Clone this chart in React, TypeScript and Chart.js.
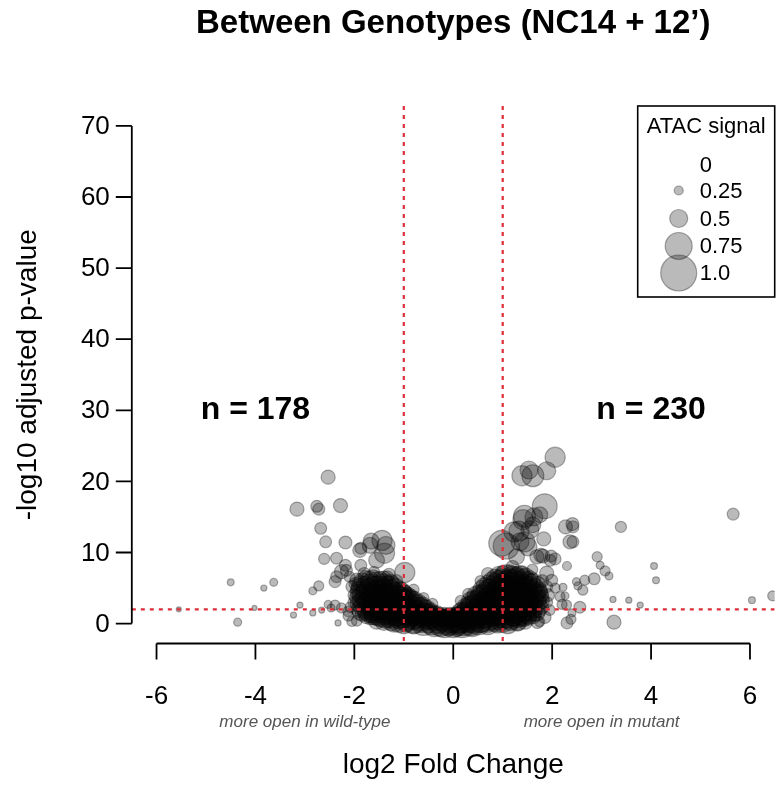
import React, { useEffect, useRef } from 'react';
import { Chart, registerables } from 'chart.js';

Chart.register(...registerables);

// ---------- text & axes ----------
const TITLE = 'Between Genotypes (NC14 + 12\u2019)';
const X_TITLE = 'log2 Fold Change';
const Y_TITLE = '-log10 adjusted p-value';
const X_TICKS = [-6, -4, -2, 0, 2, 4, 6];
const Y_TICKS = [0, 10, 20, 30, 40, 50, 60, 70];
const X_RANGE = [-6.5, 6.5];
const Y_RANGE = [-2.8, 72.8];
const FC_CUTOFF = 1; // |log2FC| threshold
const P_CUTOFF = 2; // -log10 padj threshold
const COUNT_X = [-4, 4];
const COUNT_Y = 30;
const COUNT_TEXT = ['n = 178', 'n = 230'];
const SIDE_NOTE_X = [-3, 3];
const SIDE_NOTE_TEXT = ['more open in wild-type', 'more open in mutant'];
const LEGEND_TITLE = 'ATAC signal';
const LEGEND_VALUES = [0, 0.25, 0.5, 0.75, 1.0];
const LEGEND_LABELS = ['0', '0.25', '0.5', '0.75', '1.0'];

// ---------- data: [log2 fold change, -log10 padj, ATAC signal] ----------
const coreLeft = [
  [-1.84, 6.0, 0.45], [-1.70, 6.1, 0.5], [-1.55, 5.9, 0.55], [-1.41, 6.1, 0.5], [-1.27, 5.8, 0.45],
  [-1.90, 5.2, 0.45], [-1.76, 5.3, 0.55], [-1.60, 5.1, 0.6], [-1.47, 5.3, 0.55], [-1.33, 5.2, 0.6], [-1.18, 5.0, 0.55], [-1.06, 4.9, 0.4],
  [-1.92, 4.4, 0.45], [-1.78, 4.5, 0.55], [-1.63, 4.3, 0.6], [-1.50, 4.5, 0.6], [-1.35, 4.4, 0.55], [-1.20, 4.3, 0.6], [-1.04, 4.5, 0.5], [-0.91, 4.1, 0.4],
  [-1.93, 3.6, 0.45], [-1.79, 3.7, 0.55], [-1.64, 3.5, 0.6], [-1.49, 3.7, 0.6], [-1.36, 3.6, 0.55], [-1.22, 3.5, 0.6], [-1.06, 3.7, 0.6], [-0.93, 3.5, 0.55], [-0.78, 3.4, 0.45],
  [-1.92, 2.8, 0.45], [-1.77, 2.9, 0.55], [-1.62, 2.7, 0.6], [-1.48, 2.9, 0.6], [-1.34, 2.8, 0.6], [-1.19, 2.7, 0.6], [-1.05, 2.9, 0.6], [-0.90, 2.8, 0.55], [-0.76, 2.7, 0.55], [-0.61, 2.6, 0.45],
  [-1.90, 2.0, 0.45], [-1.75, 2.1, 0.55], [-1.61, 1.9, 0.6], [-1.46, 2.1, 0.6], [-1.31, 2.0, 0.6], [-1.17, 1.9, 0.6], [-1.02, 2.1, 0.6], [-0.88, 2.0, 0.6], [-0.74, 1.9, 0.55], [-0.60, 2.0, 0.55], [-0.46, 1.8, 0.45],
  [-1.84, 1.3, 0.4], [-1.69, 1.4, 0.5], [-1.55, 1.2, 0.55], [-1.40, 1.4, 0.6], [-1.26, 1.3, 0.6], [-1.11, 1.2, 0.6], [-0.97, 1.4, 0.6], [-0.83, 1.3, 0.6], [-0.68, 1.2, 0.6], [-0.54, 1.3, 0.6], [-0.39, 1.1, 0.55], [-0.28, 1.0, 0.5],
  [-1.68, 0.7, 0.35], [-1.52, 0.8, 0.45], [-1.38, 0.6, 0.5], [-1.23, 0.7, 0.55], [-1.09, 0.8, 0.6], [-0.94, 0.6, 0.6], [-0.80, 0.7, 0.6], [-0.66, 0.5, 0.6], [-0.51, 0.7, 0.6], [-0.37, 0.6, 0.6], [-0.23, 0.5, 0.6], [-0.12, 0.6, 0.55],
];

const coreLeftInner = [
  [-1.77, 6.4, 0.42], [-1.62, 6.5, 0.42], [-1.48, 6.3, 0.42], [-1.34, 6.4, 0.4],
  [-1.87, 5.6, 0.45], [-1.69, 5.7, 0.5], [-1.54, 5.5, 0.5], [-1.40, 5.7, 0.5], [-1.26, 5.5, 0.5],
  [-1.91, 4.8, 0.45], [-1.71, 4.9, 0.55], [-1.56, 4.7, 0.55], [-1.42, 4.9, 0.55], [-1.27, 4.8, 0.55], [-1.12, 4.6, 0.5], [-0.98, 4.4, 0.4],
  [-1.86, 4.0, 0.5], [-1.71, 4.1, 0.55], [-1.57, 3.9, 0.6], [-1.42, 4.1, 0.6], [-1.28, 4.0, 0.6], [-1.13, 3.9, 0.6], [-0.99, 4.1, 0.5], [-0.85, 3.8, 0.4],
  [-1.86, 3.2, 0.5], [-1.71, 3.3, 0.55], [-1.57, 3.1, 0.6], [-1.42, 3.3, 0.6], [-1.28, 3.2, 0.6], [-1.13, 3.1, 0.6], [-0.99, 3.3, 0.6], [-0.85, 3.2, 0.55], [-0.70, 3.0, 0.45],
  [-1.85, 2.4, 0.5], [-1.70, 2.5, 0.55], [-1.55, 2.3, 0.6], [-1.41, 2.5, 0.6], [-1.26, 2.4, 0.6], [-1.12, 2.3, 0.6], [-0.97, 2.5, 0.6], [-0.83, 2.4, 0.6], [-0.68, 2.3, 0.55], [-0.54, 2.2, 0.45],
  [-1.88, 1.6, 0.45], [-1.76, 1.7, 0.5], [-1.62, 1.5, 0.55], [-1.47, 1.7, 0.6], [-1.33, 1.6, 0.6], [-1.19, 1.5, 0.6], [-1.04, 1.7, 0.6], [-0.90, 1.6, 0.6], [-0.76, 1.5, 0.6], [-0.61, 1.6, 0.55], [-0.47, 1.5, 0.5], [-0.33, 1.4, 0.45],
  [-1.76, 1.0, 0.4], [-1.61, 1.1, 0.5], [-1.46, 0.9, 0.55], [-1.31, 1.0, 0.6], [-1.16, 1.1, 0.6], [-1.02, 0.9, 0.6], [-0.87, 1.0, 0.6], [-0.73, 0.9, 0.6], [-0.59, 1.0, 0.6], [-0.45, 0.9, 0.6], [-0.31, 0.8, 0.55], [-0.18, 0.9, 0.55], [-0.05, 0.8, 0.55],
  [-1.55, 0.35, 0.45], [-1.40, 0.3, 0.5], [-1.25, 0.4, 0.55], [-1.10, 0.3, 0.6], [-0.95, 0.35, 0.6], [-0.80, 0.3, 0.65], [-0.65, 0.4, 0.65],
];

const coreRight = [
  [0.92, 6.8, 0.5], [1.06, 6.9, 0.55], [1.20, 6.7, 0.55], [1.34, 6.9, 0.5], [1.46, 6.7, 0.45],
  [0.78, 6.0, 0.5], [0.92, 6.1, 0.55], [1.07, 5.9, 0.6], [1.21, 6.1, 0.6], [1.35, 6.0, 0.55], [1.49, 5.9, 0.55], [1.61, 6.0, 0.45],
  [0.64, 5.2, 0.5], [0.79, 5.3, 0.55], [0.93, 5.1, 0.6], [1.08, 5.3, 0.6], [1.22, 5.2, 0.6], [1.37, 5.1, 0.6], [1.51, 5.3, 0.55], [1.66, 5.2, 0.45],
  [0.52, 4.3, 0.45], [0.66, 4.5, 0.55], [0.81, 4.3, 0.6], [0.95, 4.5, 0.6], [1.10, 4.4, 0.6], [1.24, 4.3, 0.6], [1.39, 4.5, 0.6], [1.53, 4.4, 0.55], [1.68, 4.3, 0.5], [1.76, 4.5, 0.4],
  [0.40, 3.5, 0.45], [0.54, 3.7, 0.55], [0.69, 3.6, 0.6], [0.83, 3.5, 0.6], [0.98, 3.7, 0.6], [1.12, 3.6, 0.6], [1.27, 3.5, 0.6], [1.41, 3.7, 0.6], [1.56, 3.6, 0.55], [1.70, 3.5, 0.5], [1.79, 3.7, 0.4],
  [0.30, 2.7, 0.45], [0.42, 2.9, 0.5], [0.57, 2.8, 0.6], [0.71, 2.7, 0.6], [0.86, 2.9, 0.6], [1.00, 2.8, 0.6], [1.15, 2.7, 0.6], [1.29, 2.9, 0.6], [1.44, 2.8, 0.6], [1.58, 2.7, 0.55], [1.72, 2.9, 0.45],
  [0.17, 1.9, 0.45], [0.31, 2.1, 0.55], [0.46, 2.0, 0.6], [0.60, 1.9, 0.6], [0.75, 2.1, 0.6], [0.89, 2.0, 0.6], [1.04, 1.9, 0.6], [1.18, 2.1, 0.6], [1.33, 2.0, 0.6], [1.47, 1.9, 0.6], [1.62, 2.1, 0.5], [1.74, 1.9, 0.4],
  [0.10, 1.1, 0.5], [0.20, 1.4, 0.55], [0.34, 1.2, 0.6], [0.49, 1.3, 0.6], [0.63, 1.4, 0.6], [0.78, 1.2, 0.6], [0.92, 1.3, 0.6], [1.07, 1.4, 0.6], [1.21, 1.2, 0.6], [1.36, 1.3, 0.6], [1.50, 1.2, 0.5], [1.64, 1.3, 0.4],
  [0.02, 0.7, 0.55], [0.14, 0.8, 0.6], [0.29, 0.6, 0.6], [0.43, 0.7, 0.6], [0.58, 0.8, 0.6], [0.72, 0.6, 0.6], [0.87, 0.7, 0.6], [1.01, 0.8, 0.6], [1.16, 0.6, 0.55], [1.30, 0.7, 0.5], [1.44, 0.6, 0.4],
];

const coreRightInner = [
  [1.00, 7.1, 0.42], [1.14, 7.2, 0.42], [1.28, 7.0, 0.42], [1.40, 7.1, 0.4],
  [0.85, 6.4, 0.5], [0.99, 6.5, 0.5], [1.14, 6.3, 0.55], [1.28, 6.5, 0.55], [1.42, 6.4, 0.5], [1.55, 6.3, 0.45],
  [0.71, 5.6, 0.5], [0.86, 5.7, 0.55], [1.00, 5.5, 0.6], [1.15, 5.7, 0.6], [1.29, 5.6, 0.6], [1.44, 5.5, 0.55], [1.58, 5.7, 0.5], [1.70, 5.5, 0.45],
  [0.58, 4.8, 0.5], [0.73, 4.9, 0.55], [0.88, 4.7, 0.6], [1.02, 4.9, 0.6], [1.17, 4.8, 0.6], [1.31, 4.7, 0.6], [1.46, 4.9, 0.6], [1.60, 4.8, 0.5], [1.73, 4.7, 0.45],
  [0.46, 4.0, 0.5], [0.60, 4.1, 0.55], [0.75, 3.9, 0.6], [0.89, 4.1, 0.6], [1.04, 4.0, 0.6], [1.18, 3.9, 0.6], [1.33, 4.1, 0.6], [1.47, 4.0, 0.6], [1.62, 3.9, 0.55], [1.76, 4.1, 0.45],
  [0.35, 3.2, 0.5], [0.48, 3.3, 0.55], [0.63, 3.1, 0.6], [0.77, 3.3, 0.6], [0.92, 3.2, 0.6], [1.06, 3.1, 0.6], [1.21, 3.3, 0.6], [1.35, 3.2, 0.6], [1.50, 3.1, 0.6], [1.64, 3.3, 0.5], [1.78, 3.2, 0.45],
  [0.24, 2.4, 0.45], [0.36, 2.5, 0.55], [0.51, 2.3, 0.6], [0.65, 2.5, 0.6], [0.80, 2.4, 0.6], [0.94, 2.3, 0.6], [1.09, 2.5, 0.6], [1.23, 2.4, 0.6], [1.38, 2.3, 0.6], [1.52, 2.5, 0.6], [1.66, 2.4, 0.5], [1.78, 2.3, 0.4],
  [0.14, 1.6, 0.5], [0.26, 1.7, 0.55], [0.41, 1.5, 0.6], [0.55, 1.7, 0.6], [0.70, 1.6, 0.6], [0.84, 1.5, 0.6], [0.99, 1.7, 0.6], [1.13, 1.6, 0.6], [1.28, 1.5, 0.6], [1.42, 1.7, 0.6], [1.56, 1.6, 0.5], [1.69, 1.5, 0.45],
  [0.08, 1.0, 0.55], [0.22, 0.9, 0.6], [0.37, 1.1, 0.6], [0.51, 1.0, 0.6], [0.66, 0.9, 0.6], [0.80, 1.1, 0.6], [0.95, 1.0, 0.6], [1.09, 0.9, 0.6], [1.24, 1.1, 0.6], [1.38, 1.0, 0.55], [1.52, 0.9, 0.45], [1.62, 1.0, 0.4],
  [0.10, 0.3, 0.65], [0.25, 0.4, 0.65], [0.40, 0.3, 0.65], [0.55, 0.4, 0.65], [0.70, 0.3, 0.6], [0.85, 0.4, 0.6], [1.00, 0.3, 0.6], [1.15, 0.4, 0.55], [1.30, 0.3, 0.5], [1.45, 0.35, 0.45],
];

const coreCenter = [
  [-1.20, 0.2, 0.55], [-1.00, 0.1, 0.6], [-0.80, 0.2, 0.65], [-0.60, 0.1, 0.7], [-0.42, 0.2, 0.7], [-0.25, 0.1, 0.75], [-0.10, 0.2, 0.75],
  [0.05, 0.1, 0.75], [0.20, 0.2, 0.75], [0.36, 0.1, 0.7], [0.52, 0.2, 0.7], [0.70, 0.1, 0.65], [0.90, 0.2, 0.6], [1.10, 0.1, 0.6], [1.30, 0.2, 0.5],
  [-0.30, 0.4, 0.7], [-0.05, 0.5, 0.7], [0.15, 0.45, 0.7], [0.35, 0.55, 0.7], [-0.50, 0.35, 0.65], [0.55, 0.4, 0.65],
  [0.00, 0.0, 0.78], [-0.18, 0.0, 0.78], [0.18, 0.0, 0.78], [-0.38, 0.0, 0.72], [0.38, 0.0, 0.72], [-0.1, 0.3, 0.72], [0.1, 0.25, 0.72],
];

const fringe = [
  [-2.00, 4.0, 0.35], [-2.02, 3.0, 0.3], [-2.08, 2.3, 0.3], [-1.98, 5.6, 0.35], [-2.10, 6.6, 0.3], [-1.80, 7.0, 0.35],
  [-1.60, 7.3, 0.3], [-1.30, 6.9, 0.35], [-1.15, 6.0, 0.35], [-0.80, 4.8, 0.3], [-0.60, 3.6, 0.3], [-0.42, 2.8, 0.3],
  [-2.12, 1.1, 0.3], [-1.95, 0.4, 0.3],
  [1.90, 3.0, 0.3], [1.95, 1.9, 0.3], [1.85, 0.9, 0.35], [1.70, 0.2, 0.35], [1.92, 4.0, 0.35], [1.80, 6.0, 0.35],
  [1.60, 7.6, 0.3], [0.70, 7.0, 0.35], [0.55, 6.0, 0.3], [0.30, 4.2, 0.3], [0.15, 3.2, 0.3], [1.20, 8.0, 0.35],
];

const outliersLeft = [
  [-2.53, 20.6, 0.39], [-3.16, 16.1, 0.39], [-2.76, 16.5, 0.33], [-2.72, 16.1, 0.33], [-2.28, 16.6, 0.39],
  [-2.68, 13.4, 0.33], [-2.58, 11.5, 0.33], [-2.18, 11.4, 0.36], [-2.61, 9.1, 0.31], [-2.36, 9.2, 0.33],
  [-2.18, 8.2, 0.33], [-1.87, 10.6, 0.33], [-1.66, 11.6, 0.44], [-1.44, 11.7, 0.56], [-1.39, 9.9, 0.56],
  [-0.98, 7.2, 0.56], [-2.26, 7.3, 0.39], [-2.36, 6.6, 0.33], [-2.39, 5.9, 0.33], [-2.16, 7.5, 0.33],
  [-1.95, 6.1, 0.39], [-2.05, 5.2, 0.33], [-2.72, 5.3, 0.28], [-2.84, 4.6, 0.22], [-2.53, 2.7, 0.22],
  [-2.39, 2.6, 0.28], [-2.26, 2.2, 0.28], [-2.13, 1.7, 0.28], [-2.05, 0.3, 0.28], [-2.33, 0.1, 0.17],
  [-3.10, 2.6, 0.17], [-3.23, 1.2, 0.17], [-2.84, 1.5, 0.17], [-2.66, 1.9, 0.17], [-2.47, 2.2, 0.22],
  [-4.50, 5.8, 0.19], [-3.83, 5.0, 0.17], [-3.63, 5.8, 0.22], [-5.55, 2.0, 0.14], [-4.02, 2.2, 0.14],
  [-4.36, 0.2, 0.22], [-1.89, 10.3, 0.39], [-1.68, 11.0, 0.44], [-1.55, 8.9, 0.44], [-1.36, 11.0, 0.5],
  [-1.87, 8.2, 0.33],
];

const outliersRight = [
  [2.06, 23.4, 0.56], [1.89, 21.5, 0.5], [1.61, 20.8, 0.61], [1.39, 20.8, 0.56], [1.53, 21.6, 0.5],
  [1.85, 16.5, 0.69], [1.44, 15.1, 0.61], [1.63, 15.0, 0.5], [1.61, 13.9, 0.44], [1.07, 10.9, 0.72],
  [1.33, 13.0, 0.56], [1.45, 11.5, 0.56], [1.83, 11.9, 0.39], [1.77, 9.6, 0.39], [1.98, 9.5, 0.33],
  [2.27, 13.6, 0.39], [2.41, 14.0, 0.36], [2.42, 13.6, 0.33], [2.36, 11.5, 0.39], [2.42, 11.5, 0.33],
  [3.39, 13.6, 0.31], [2.30, 8.1, 0.25], [2.91, 9.4, 0.28], [2.97, 8.2, 0.22], [3.07, 7.4, 0.28],
  [3.15, 6.7, 0.22], [2.85, 6.3, 0.33], [2.66, 6.1, 0.28], [2.52, 5.3, 0.22], [2.62, 4.7, 0.28],
  [2.22, 5.1, 0.22], [2.26, 3.9, 0.22], [2.20, 2.7, 0.28], [2.56, 2.3, 0.33], [2.40, 1.5, 0.22],
  [2.30, 0.1, 0.33], [2.38, 0.6, 0.28], [3.25, 0.2, 0.39], [3.23, 3.4, 0.17], [3.55, 3.3, 0.17],
  [3.78, 2.6, 0.17], [4.06, 8.1, 0.19], [4.10, 6.1, 0.19], [5.66, 15.4, 0.33], [6.04, 3.3, 0.19],
  [6.46, 3.9, 0.28], [0.98, 11.3, 0.72], [1.23, 12.9, 0.56], [1.35, 11.5, 0.5], [1.51, 10.8, 0.5],
  [1.69, 9.4, 0.39], [1.81, 9.5, 0.39], [1.28, 9.4, 0.44], [1.55, 13.2, 0.5], [1.75, 15.3, 0.44],
  [1.41, 14.6, 0.56], [1.96, 8.9, 0.33], [2.06, 9.1, 0.33], [1.89, 7.1, 0.39], [1.99, 6.1, 0.33],
  [1.89, 5.2, 0.33], [2.06, 5.0, 0.28], [2.16, 3.8, 0.28], [2.29, 2.6, 0.28], [2.49, 5.9, 0.22],
  [1.75, 0.25, 0.28],
];

// ---------- styles ----------
const FONT = '"Liberation Sans", Arial, Helvetica, sans-serif';
const R_FULL = 18; // bubble radius (px) for ATAC signal 1.0
const FILL = 'rgba(0,0,0,0.27)';
const EDGE = 'rgba(0,0,0,0.32)';
const RED = '#dc2e38';

const toBubbles = (arr: number[][]) => arr.map(([x, y, s]) => ({ x, y, r: s * R_FULL }));

const rPlotPlugin = {
  id: 'rPlot',
  afterDatasetsDraw(chart: any) {
    const { ctx, chartArea: a, scales } = chart;
    const xs = scales.x;
    const ys = scales.y;
    ctx.save();
    ctx.beginPath();
    ctx.rect(a.left, a.top, a.right - a.left, a.bottom - a.top);
    ctx.clip();
    ctx.strokeStyle = RED;
    ctx.lineWidth = 2.2;
    ctx.setLineDash([4, 5]);
    [-FC_CUTOFF, FC_CUTOFF].forEach((v) => {
      const px = xs.getPixelForValue(v);
      ctx.beginPath();
      ctx.moveTo(px, a.top);
      ctx.lineTo(px, a.bottom);
      ctx.stroke();
    });
    const py = ys.getPixelForValue(P_CUTOFF);
    ctx.beginPath();
    ctx.moveTo(a.left, py);
    ctx.lineTo(a.right, py);
    ctx.stroke();
    ctx.restore();
  },
  afterDraw(chart: any) {
    const { ctx, chartArea: a, scales } = chart;
    const xs = scales.x;
    const ys = scales.y;
    ctx.save();
    ctx.fillStyle = '#000';
    ctx.strokeStyle = '#000';
    ctx.lineWidth = 1.8;
    ctx.setLineDash([]);

    // x axis
    const x0 = xs.getPixelForValue(X_TICKS[0]);
    const x1 = xs.getPixelForValue(X_TICKS[X_TICKS.length - 1]);
    ctx.beginPath();
    ctx.moveTo(x0, a.bottom);
    ctx.lineTo(x1, a.bottom);
    X_TICKS.forEach((t) => {
      const px = xs.getPixelForValue(t);
      ctx.moveTo(px, a.bottom);
      ctx.lineTo(px, a.bottom + 16);
    });
    ctx.stroke();
    ctx.font = `26px ${FONT}`;
    ctx.textAlign = 'center';
    ctx.textBaseline = 'middle';
    X_TICKS.forEach((t) => {
      ctx.fillText(String(t), xs.getPixelForValue(t), 697);
    });

    // y axis
    const y0 = ys.getPixelForValue(Y_TICKS[0]);
    const y1 = ys.getPixelForValue(Y_TICKS[Y_TICKS.length - 1]);
    ctx.beginPath();
    ctx.moveTo(a.left, y0);
    ctx.lineTo(a.left, y1);
    Y_TICKS.forEach((t) => {
      const py = ys.getPixelForValue(t);
      ctx.moveTo(a.left, py);
      ctx.lineTo(a.left - 16, py);
    });
    ctx.stroke();
    ctx.textAlign = 'right';
    Y_TICKS.forEach((t) => {
      ctx.fillText(String(t), a.left - 22, ys.getPixelForValue(t) + 1);
    });

    // side notes
    ctx.font = `italic 17px ${FONT}`;
    ctx.fillStyle = '#555';
    ctx.textAlign = 'center';
    SIDE_NOTE_X.forEach((v, i) => ctx.fillText(SIDE_NOTE_TEXT[i], xs.getPixelForValue(v), 722));

    // axis titles
    ctx.fillStyle = '#000';
    ctx.font = `28px ${FONT}`;
    ctx.fillText(X_TITLE, (a.left + a.right) / 2, 765);
    ctx.save();
    ctx.translate(28, (a.top + a.bottom) / 2);
    ctx.rotate(-Math.PI / 2);
    ctx.fillText(Y_TITLE, 0, 0);
    ctx.restore();

    // main title
    ctx.font = `bold 33px ${FONT}`;
    ctx.fillText(TITLE, (a.left + a.right) / 2, 24);

    // counts
    ctx.font = `bold 32px ${FONT}`;
    COUNT_X.forEach((v, i) => ctx.fillText(COUNT_TEXT[i], xs.getPixelForValue(v), ys.getPixelForValue(COUNT_Y)));

    // legend
    const lw = 137;
    const lh = 191;
    const lx = a.right - lw;
    const ly = a.top;
    ctx.fillStyle = '#fff';
    ctx.fillRect(lx, ly, lw, lh);
    ctx.lineWidth = 1.6;
    ctx.strokeStyle = '#000';
    ctx.strokeRect(lx, ly, lw, lh);
    ctx.fillStyle = '#000';
    ctx.font = `22px ${FONT}`;
    ctx.textAlign = 'center';
    ctx.fillText(LEGEND_TITLE, lx + lw / 2, ly + 21);
    const rowY = [164.5, 190.5, 218.5, 246, 273];
    ctx.textAlign = 'left';
    ctx.font = `22px ${FONT}`;
    LEGEND_VALUES.forEach((v, i) => {
      const r = v * R_FULL;
      if (r > 0) {
        ctx.beginPath();
        ctx.arc(lx + 41, rowY[i], r, 0, Math.PI * 2);
        ctx.fillStyle = FILL;
        ctx.fill();
        ctx.lineWidth = 1.2;
        ctx.strokeStyle = EDGE;
        ctx.stroke();
      }
      ctx.fillStyle = '#000';
      ctx.fillText(LEGEND_LABELS[i], lx + 62, rowY[i] + 1);
    });
    ctx.restore();
  },
};

export default function App() {
  const ref = useRef<HTMLCanvasElement | null>(null);
  useEffect(() => {
    if (!ref.current) return;
    const groups = [coreCenter, coreLeft, coreLeftInner, coreRight, coreRightInner, fringe, outliersLeft, outliersRight];
    const chart = new Chart(ref.current, {
      type: 'bubble',
      data: {
        datasets: groups.map((g, i) => ({
          label: `peaks ${i}`,
          data: toBubbles(g),
          backgroundColor: FILL,
          borderColor: EDGE,
          borderWidth: 1.2,
          hoverRadius: 0,
        })),
      },
      options: {
        responsive: false,
        animation: false,
        events: [],
        layout: { autoPadding: false, padding: { left: 131.8, top: 106, right: 2.3, bottom: 144.5 } },
        plugins: { legend: { display: false }, tooltip: { enabled: false }, title: { display: false } },
        scales: {
          x: { type: 'linear', min: X_RANGE[0], max: X_RANGE[1], display: false },
          y: { type: 'linear', min: Y_RANGE[0], max: Y_RANGE[1], display: false },
        },
      },
      plugins: [rPlotPlugin],
    });
    return () => chart.destroy();
  }, []);
  return (
    <div style={{ position: 'absolute', left: 0, top: 0, width: 777, height: 788, background: '#fff' }}>
      <canvas ref={ref} width={777} height={788} style={{ display: 'block' }} />
    </div>
  );
}
